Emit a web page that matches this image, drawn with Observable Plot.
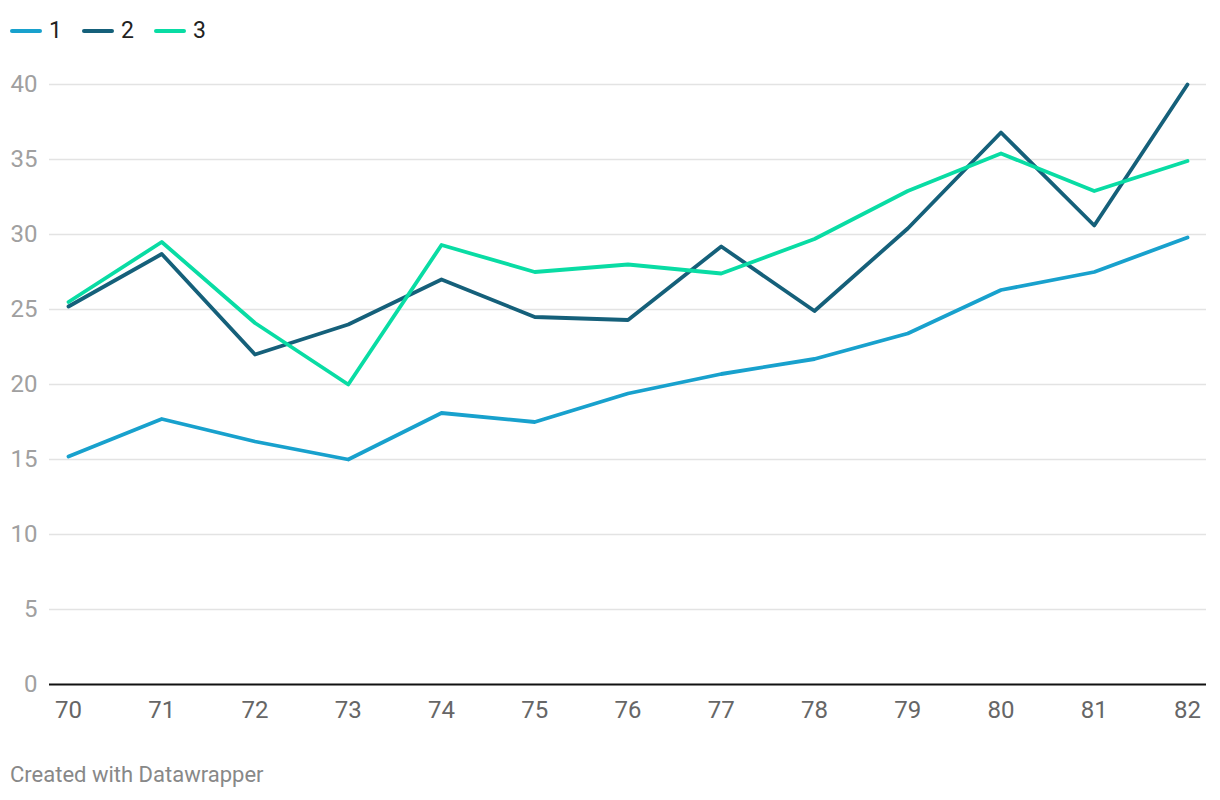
<!DOCTYPE html>
<html>
<head>
<meta charset="utf-8">
<script src="https://cdn.jsdelivr.net/npm/d3@7"></script>
<script src="https://cdn.jsdelivr.net/npm/@observablehq/plot@0.6"></script>
<style>
  body { margin: 0; background: #fff; font-family: Roboto, "Noto Sans", sans-serif; width: 1220px; height: 800px; position: relative; overflow: hidden; }
  #legend { position: absolute; left: 10px; top: 17px; display: flex; align-items: center; font-size: 23px; color: #222; }
  .item { display: flex; align-items: center; margin-right: 20px; }
  .sw { width: 32px; height: 4px; border-radius: 2px; margin-right: 7px; }
  #chart { position: absolute; left: 0; top: 60px; }
  #footer { position: absolute; left: 10px; top: 762px; font-size: 22px; color: #888; }
</style>
</head>
<body>
<div id="legend"></div>
<div id="chart"></div>
<div id="footer">Created with Datawrapper</div>
<script>
const years = [70, 71, 72, 73, 74, 75, 76, 77, 78, 79, 80, 81, 82];
const series1 = [15.2, 17.7, 16.2, 15.0, 18.1, 17.5, 19.4, 20.7, 21.7, 23.4, 26.3, 27.5, 29.8];
const series2 = [25.2, 28.7, 22.0, 24.0, 27.0, 24.5, 24.3, 29.2, 24.9, 30.4, 36.8, 30.6, 40.0];
const series3 = [25.5, 29.5, 24.1, 20.0, 29.3, 27.5, 28.0, 27.4, 29.7, 32.9, 35.4, 32.9, 34.9];
const seriesNames = ["1", "2", "3"];
const colors = ["#18a1cd", "#15607a", "#09dca4"];
const yTicks = [0, 5, 10, 15, 20, 25, 30, 35, 40];

const all = [series1, series2, series3];
const data = [];
all.forEach((s, i) => s.forEach((v, j) => data.push({year: years[j], value: v, series: seriesNames[i]})));

const legend = document.getElementById("legend");
seriesNames.forEach((n, i) => {
  const it = document.createElement("div");
  it.className = "item";
  it.innerHTML = `<span class="sw" style="background:${colors[i]}"></span><span>${n}</span>`;
  legend.appendChild(it);
});

const chart = Plot.plot({
  width: 1220,
  height: 670,
  marginLeft: 49,
  marginRight: 14,
  marginTop: 24,
  marginBottom: 46,
  insetLeft: 19,
  insetRight: 19,
  style: { fontFamily: "Roboto, 'Noto Sans', sans-serif", fontSize: "24px", background: "#fff" },
  x: { domain: [70, 82], ticks: years, tickFormat: d => String(d), label: null },
  y: { domain: [0, 40], ticks: yTicks, label: null },
  color: { domain: seriesNames, range: colors },
  marks: [
    Plot.gridY(yTicks.filter(d => d > 0), { stroke: "#e3e3e3", strokeOpacity: 1, strokeWidth: 1.5 }),
    Plot.axisY({ ticks: yTicks, tickSize: 0, tickPadding: 12, fill: "#a0a0a0", label: null, fontSize: 24 }),
    Plot.axisX({ ticks: years, tickSize: 0, tickPadding: 16, fill: "#666", label: null, fontSize: 24, tickFormat: d => String(d) }),
    Plot.ruleY([0], { stroke: "#111", strokeWidth: 2 }),
    Plot.line(data, { x: "year", y: "value", z: "series", stroke: "series", strokeWidth: 3.8, strokeLinejoin: "round", strokeLinecap: "round" })
  ]
});
document.getElementById("chart").appendChild(chart);
</script>
</body>
</html>
